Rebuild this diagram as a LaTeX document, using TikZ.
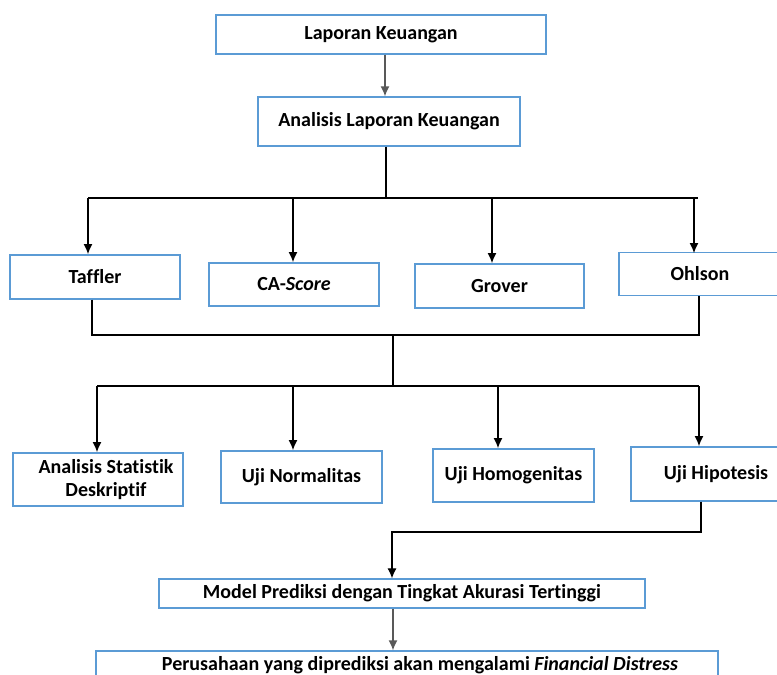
\documentclass[tikz,border=0pt]{standalone}
\usepackage{fontspec}
\setmainfont{Carlito}[Ligatures=NoCommon]
\usetikzlibrary{arrows, arrows.meta, positioning}
\definecolor{boxblue}{HTML}{5B9BD5}
\definecolor{linegray}{HTML}{595959}

\begin{document}
\begin{tikzpicture}[x=1pt, y=-1pt, >={Latex[length=10pt,width=9pt]}, font=\fontsize{20}{23}\selectfont\bfseries]
        % Define block styles
        \tikzstyle{block} = [draw=boxblue, line width=1.3pt, fill=white, rectangle, inner sep=0pt, text centered, align=center]
        \tikzstyle{line} = [draw, black, line width=1.1pt]
        \tikzstyle{trunk} = [draw, black, line width=2pt]
        \tikzstyle{arrow} = [->, black, line width=1.1pt]
        \tikzstyle{grayarrow} = [->, linegray, line width=1.4pt]

        \useasboundingbox (0,0) rectangle (777,675);

        % Nodes
        \node [block, minimum width=330pt, minimum height=39pt] (lap) at (381,34.5) {Laporan Keuangan};
        \node [block, minimum width=262pt, minimum height=49pt] (ana) at (389,121.5) {Analisis Laporan Keuangan};

        \node [block, minimum width=170pt, minimum height=44pt] (taf) at (95,277) {Taffler};
        \node [block, minimum width=170pt, minimum height=43pt] (cas) at (294,284.5) {CA-\textit{Score}};
        \node [block, minimum width=169pt, minimum height=44pt] (gro) at (499.5,286) {Grover};
        \node [block, minimum width=162pt, minimum height=43pt] (ohl) at (700,274) {Ohlson};

        \node [block, minimum width=170pt, minimum height=53pt] (ast) at (98,479.5) {\hspace*{16pt}Analisis Statistik\\\hspace*{16pt}Deskriptif};
        \node [block, minimum width=161pt, minimum height=52pt] (nor) at (301.5,477) {Uji Normalitas};
        \node [block, minimum width=161pt, minimum height=53pt] (hom) at (513.5,475.5) {Uji Homogenitas};
        \node [block, minimum width=170pt, minimum height=54pt] (hip) at (716,474) {Uji Hipotesis};

        \node [block, minimum width=486pt, minimum height=29pt] (mod) at (402,593.5) {Model Prediksi dengan Tingkat Akurasi Tertinggi};
        \node [block, minimum width=622pt, minimum height=28pt] (per) at (407,665) {\hspace*{26pt}Perusahaan yang diprediksi akan mengalami \textit{Financial Distress}};

        % Junctions
        \coordinate (top) at (386,198);
        \coordinate (mid) at (393,335);
        \coordinate (low) at (393,386);
        \coordinate (bot) at (392,532);

        % Edges
        \draw [grayarrow] ([xshift=4pt]lap.south) -- ([xshift=4pt]lap.south |- ana.north);
        \draw [trunk] (ana.south -| top) -- (top);
        \draw [line] (88,198) -- (698,198);
        \draw [arrow] (88,198) -- (88,254);
        \draw [arrow] (293,198) -- (293,262);
        \draw [arrow] (492,198) -- (492,263);
        \draw [arrow] (694,198) -- (694,253);

        \draw [line] (taf.south -| 92,0) |- (mid) -| (ohl.south -| 699,0);
        \draw [trunk] (mid) -- (low);
        \draw [line] (97,386) -- (699,386);
        \draw [arrow] (97,386) -- (97,452);
        \draw [arrow] (293,386) -- (293,450);
        \draw [arrow] (498,386) -- (498,448);
        \draw [arrow] (699,386) -- (699,446);

        \draw [line, ->] (hip.south -| 701,0) |- (bot) -- (bot |- mod.north);
        \draw [grayarrow] (mod.south -| 393,0) -- (per.north -| 393,0);
\end{tikzpicture}
\end{document}
